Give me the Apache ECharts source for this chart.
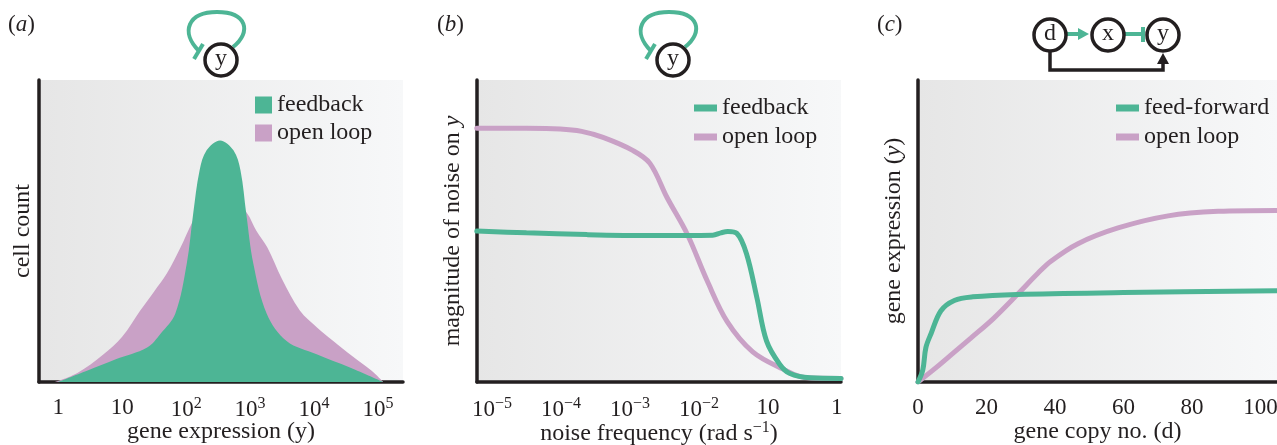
<!DOCTYPE html>
<html>
<head>
<meta charset="utf-8">
<script src="https://cdn.jsdelivr.net/npm/echarts@6/dist/echarts.min.js"></script>
<style>
html,body{margin:0;padding:0;background:#fff;}
#chart{width:1277px;height:445px;}
</style>
</head>
<body>
<div id="chart"></div>
<script>
// ---------- DATA ----------
// Panel (a): x = log10(gene expression), y = relative cell count
const aTickValues = [0, 1, 2, 3, 4, 5];
const aTickLabels = ['1', '10', '10{s|2}', '10{s|3}', '10{s|4}', '10{s|5}'];
const aOpenLoop = [[-0.05,0],[0.3,0.03],[0.7,0.09],[1.0,0.15],[1.28,0.236],[1.5,0.3],[1.7,0.36],[1.9,0.44],[2.11,0.535],[2.3,0.6],[2.53,0.62],[2.75,0.6],[2.95,0.56],[3.1,0.5],[3.27,0.445],[3.5,0.34],[3.78,0.236],[4.05,0.18],[4.3,0.136],[4.6,0.085],[4.9,0.037],[5.08,0]];
const aFeedback = [[0.0,0],[0.45,0.037],[0.9,0.075],[1.39,0.114],[1.6,0.16],[1.83,0.226],[2.01,0.392],[2.11,0.557],[2.21,0.70],[2.32,0.767],[2.53,0.80],[2.74,0.767],[2.85,0.70],[2.94,0.557],[3.05,0.392],[3.26,0.226],[3.57,0.136],[4.04,0.092],[4.56,0.048],[5.08,0]];

// Panel (b): x = tick position index, y = relative noise magnitude
const bTickValues = [0, 1, 2, 3, 4, 5];
const bTickLabels = ['10{s|\u22125}', '10{s|\u22124}', '10{s|\u22123}', '10{s|\u22122}', '10', '1'];
const bOpenLoop = [[-0.22,0.84],[0.5,0.84],[0.99,0.838],[1.3,0.83],[1.61,0.81],[2.04,0.767],[2.29,0.724],[2.54,0.61],[2.83,0.49],[3.12,0.335],[3.41,0.20],[3.78,0.10],[4.22,0.043],[4.54,0.015],[5.06,0.012]];
const bFeedback = [[-0.22,0.50],[0.5,0.494],[1.38,0.488],[2.3,0.485],[3.2,0.486],[3.32,0.494],[3.42,0.498],[3.55,0.492],[3.69,0.425],[3.84,0.28],[3.98,0.136],[4.17,0.059],[4.32,0.028],[4.61,0.014],[5.06,0.012]];

// Panel (c): x = gene copy number, y = relative gene expression
const cTickValues = [0, 20, 40, 60, 80, 100];
const cFeedForward = [[0,0],[1.4,0.04],[2.3,0.114],[3.8,0.16],[6.7,0.236],[10.6,0.27],[16,0.282],[29,0.29],[60,0.296],[105,0.302]];
const cOpenLoop = [[0,0],[5,0.045],[10,0.093],[15.5,0.146],[22,0.21],[29.2,0.292],[35,0.36],[38.8,0.40],[46.7,0.458],[58.4,0.51],[73,0.55],[87.6,0.565],[105,0.568]];

// ---------- STYLE ----------
const GREEN = '#4db595';
const PINK = '#c9a1c6';
const INK = '#231f20';
const FONT = '"Liberation Serif", "Times New Roman", serif';

const chart = echarts.init(document.getElementById('chart'), null, {renderer: 'canvas'});

function bg() {
  return new echarts.graphic.LinearGradient(0, 0, 1, 0, [
    {offset: 0, color: '#e6e6e6'},
    {offset: 1, color: '#f7f8f9'}
  ]);
}
const supRich = {
  s: {fontSize: 16, fontFamily: FONT, color: INK, padding: [0, 0, 12, 0]}
};
function xAxis(idx, min, max, vals, fmt, name) {
  return {
    type: 'value', gridIndex: idx, min: min, max: max,
    axisLine: {show: true, onZero: false, lineStyle: {color: INK, width: 3.5}},
    axisTick: {show: false}, splitLine: {show: false},
    axisLabel: {
      customValues: vals, formatter: fmt, margin: 14,
      fontSize: 23, fontFamily: FONT, color: INK, rich: supRich
    },
    name: name, nameLocation: 'middle', nameGap: 38, nameMoveOverlap: false,
    nameTextStyle: {fontSize: 24, fontFamily: FONT, color: INK, rich: {
      s: {fontSize: 16, fontFamily: FONT, color: INK, padding: [0, 0, 12, 0]},
      i: {fontSize: 24, fontFamily: FONT, color: INK, fontStyle: 'italic'}
    }}
  };
}
function yAxis(idx, name, gap) {
  return {
    type: 'value', gridIndex: idx, min: 0, max: 1,
    axisLine: {show: true, onZero: false, lineStyle: {color: INK, width: 3.5}},
    axisTick: {show: false}, splitLine: {show: false}, axisLabel: {show: false},
    name: name, nameLocation: 'middle', nameGap: gap, nameRotate: 90, nameMoveOverlap: false,
    nameTextStyle: {fontSize: 24, fontFamily: FONT, color: INK, rich: {
      i: {fontSize: 24, fontFamily: FONT, color: INK, fontStyle: 'italic'}
    }}
  };
}
function area(name, data, color, idx) {
  return {
    type: 'line', name: name, xAxisIndex: idx, yAxisIndex: idx, data: data,
    smooth: 0.35, showSymbol: false, silent: true,
    lineStyle: {width: 0, color: color}, itemStyle: {color: color},
    areaStyle: {color: color, opacity: 1}
  };
}
function line(name, data, color, idx) {
  return {
    type: 'line', name: name, xAxisIndex: idx, yAxisIndex: idx, data: data,
    smooth: 0.35, showSymbol: false, silent: true,
    lineStyle: {width: 5, color: color, cap: 'round'}, itemStyle: {color: color}
  };
}
const legendText = {fontSize: 24, fontFamily: FONT, color: INK};

// diagram elements (decorative network sketches above the panels)
function loopDiagram(cx) {
  const dx = cx - 220;
  return [
    {type: 'bezierCurve', shape: {x1: 233+dx, y1: 47, cpx1: 252+dx, cpy1: 32, cpx2: 247+dx, cpy2: 12, x2: 217+dx, y2: 12},
     style: {fill: 'none', stroke: GREEN, lineWidth: 4}},
    {type: 'bezierCurve', shape: {x1: 217+dx, y1: 12, cpx1: 188+dx, cpy1: 12, cpx2: 180+dx, cpy2: 32, x2: 199+dx, y2: 51},
     style: {fill: 'none', stroke: GREEN, lineWidth: 4}},
    {type: 'line', shape: {x1: 194+dx, y1: 59, x2: 203+dx, y2: 44}, style: {stroke: GREEN, lineWidth: 4}},
    {type: 'circle', shape: {cx: 221+dx, cy: 60, r: 16}, style: {fill: '#fff', stroke: INK, lineWidth: 3.5}},
    {type: 'text', x: 221+dx, y: 59, style: {text: 'y', fontSize: 24, fontFamily: FONT, fill: INK, align: 'center', verticalAlign: 'middle'}}
  ];
}
function node(cx, cy, t) {
  return [
    {type: 'circle', shape: {cx: cx, cy: cy, r: 16}, style: {fill: '#fff', stroke: INK, lineWidth: 3.5}},
    {type: 'text', x: cx, y: cy - 1, style: {text: t, fontSize: 24, fontFamily: FONT, fill: INK, align: 'center', verticalAlign: 'middle'}}
  ];
}
function panelLabel(x, letter) {
  return {type: 'text', x: x, y: 25, style: {
    text: '({i|' + letter + '})', fontSize: 23, fontFamily: FONT, fill: INK, verticalAlign: 'middle',
    rich: {i: {fontSize: 23, fontFamily: FONT, fontStyle: 'italic', fill: INK}}
  }};
}
const graphics = [].concat(
  [panelLabel(8, 'a'), panelLabel(437, 'b'), panelLabel(877, 'c')],
  loopDiagram(220),
  loopDiagram(672),
  [
    {type: 'polyline', shape: {points: [[1050, 52], [1050, 70], [1163, 70], [1163, 60]]}, style: {fill: 'none', stroke: INK, lineWidth: 3.5}},
    {type: 'polygon', shape: {points: [[1157, 64], [1169, 64], [1163, 53]]}, style: {fill: INK}},
    {type: 'line', shape: {x1: 1066, y1: 34, x2: 1080, y2: 34}, style: {stroke: GREEN, lineWidth: 4}},
    {type: 'polygon', shape: {points: [[1078, 28], [1089, 34], [1078, 40]]}, style: {fill: GREEN}},
    {type: 'line', shape: {x1: 1124, y1: 34, x2: 1143, y2: 34}, style: {stroke: GREEN, lineWidth: 4}},
    {type: 'line', shape: {x1: 1143, y1: 27, x2: 1143, y2: 42}, style: {stroke: GREEN, lineWidth: 4}}
  ],
  node(1050, 35, 'd'), node(1108, 35, 'x'), node(1163, 35, 'y')
);

const gridBase = {top: 80, height: 302, show: true, borderWidth: 0, containLabel: false, outerBoundsMode: 'none'};
const option = {
  animation: false,
  backgroundColor: '#ffffff',
  grid: [
    Object.assign({left: 39, width: 364, backgroundColor: bg()}, gridBase),
    Object.assign({left: 477, width: 364, backgroundColor: bg()}, gridBase),
    Object.assign({left: 918, width: 359, backgroundColor: bg()}, gridBase)
  ],
  xAxis: [
    xAxis(0, -0.30, 5.39, aTickValues, (v) => aTickLabels[aTickValues.indexOf(v)], 'gene expression (y)'),
    xAxis(1, -0.217, 5.06, bTickValues, (v) => bTickLabels[bTickValues.indexOf(v)], 'noise frequency (rad s{s|\u22121})'),
    xAxis(2, 0, 104.8, cTickValues, (v) => String(v), 'gene copy no. (d)')
  ],
  yAxis: [
    yAxis(0, 'cell count', 4),
    yAxis(1, 'magnitude of noise on {i|y}', 12),
    yAxis(2, 'gene expression ({i|y})', 12)
  ],
  legend: [
    {orient: 'vertical', left: 250, top: 88, itemWidth: 17, itemHeight: 17, itemGap: 4, icon: 'rect',
     textStyle: legendText, selectedMode: false, data: ['feedback', 'open loop']},
    {orient: 'vertical', left: 689, top: 91, itemWidth: 23, itemHeight: 7, itemGap: 5, icon: 'rect',
     textStyle: legendText, selectedMode: false,
     data: [{name: 'feedback', itemStyle: {color: GREEN}}, {name: 'open loop', itemStyle: {color: PINK}}]},
    {orient: 'vertical', left: 1111, top: 91, itemWidth: 23, itemHeight: 7, itemGap: 5, icon: 'rect',
     textStyle: legendText, selectedMode: false,
     data: [{name: 'feed-forward', itemStyle: {color: GREEN}}, {name: 'open loop', itemStyle: {color: PINK}}]}
  ],
  series: [
    area('open loop', aOpenLoop, PINK, 0),
    area('feedback', aFeedback, GREEN, 0),
    line('open loop', bOpenLoop, PINK, 1),
    line('feedback', bFeedback, GREEN, 1),
    line('open loop', cOpenLoop, PINK, 2),
    line('feed-forward', cFeedForward, GREEN, 2)
  ],
  graphic: graphics
};
chart.setOption(option);
</script>
</body>
</html>
